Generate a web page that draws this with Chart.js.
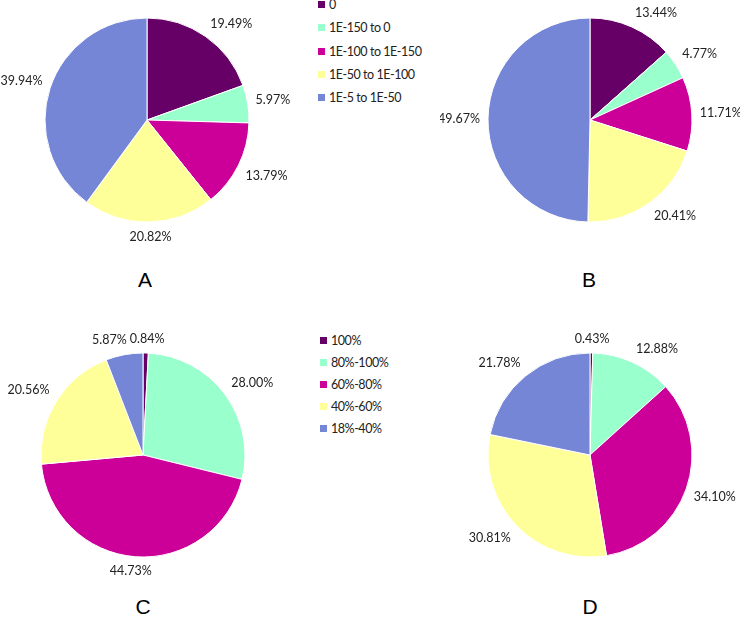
<!DOCTYPE html>
<html>
<head>
<meta charset="utf-8">
<script src="https://cdn.jsdelivr.net/npm/chart.js@4/dist/chart.umd.min.js"></script>
<style>
  body { margin: 0; background: #fff; width: 741px; height: 617px; overflow: hidden; position: relative; font-family: Lato, "Open Sans", sans-serif; }
  .box { position: absolute; }
  .letter { position: absolute; font-family: "Liberation Sans", Arial, sans-serif; font-size: 21px; color: #000; transform: translate(-50%, -50%); }
  .legend { position: absolute; font-size: 12.5px; letter-spacing: -0.45px; color: #222; }
  .legend div { position: absolute; white-space: nowrap; line-height: 14px; }
  .legend span { display: inline-block; width: 7px; height: 7px; margin-right: 4px; vertical-align: 1px; }
</style>
</head>
<body>

<div class="legend" id="legend1" style="left:318px; top:-2px;"></div>
<div class="legend" id="legend2" style="left:320px; top:334px;"></div>

<div class="letter" style="left:145px; top:280px;">A</div>
<div class="letter" style="left:589px; top:280px;">B</div>
<div class="letter" style="left:143px; top:607px;">C</div>
<div class="letter" style="left:590px; top:607px;">D</div>

<script>
// colours shared by all four pies
colors = ['#660066', '#99FFCC', '#CC0099', '#FFFF99', '#7586D6'];

// top row categories (E-value bins)
evalueLabels = ['0', '1E-150 to 0', '1E-100 to 1E-150', '1E-50 to 1E-100', '1E-5 to 1E-50'];
// bottom row categories (identity bins)
identityLabels = ['100%', '80%-100%', '60%-80%', '40%-60%', '18%-40%'];

valuesA = [19.49, 5.97, 13.79, 20.82, 39.94];
valuesB = [13.44, 4.77, 11.71, 20.41, 49.67];
valuesC = [0.84, 28.00, 44.73, 20.56, 5.87];
valuesD = [0.43, 12.88, 34.10, 30.81, 21.78];

function buildLegend(id, labels, step) {
    var el = document.getElementById(id);
    for (var i = 0; i < labels.length; i++) {
        var d = document.createElement('div');
        d.style.top = (i * step) + 'px';
        d.innerHTML = '<span style="background:' + colors[i] + '"></span>' + labels[i];
        el.appendChild(d);
    }
}
buildLegend('legend1', evalueLabels, 23.3);
buildLegend('legend2', identityLabels, 22);

function clamp(v) { return Math.max(-1, Math.min(1, v)); }

// draws the percentage labels outside each slice (box corner sits just off the rim)
outsideLabels = {
    id: 'outsideLabels',
    afterDatasetsDraw(chart) {
        var ctx = chart.ctx;
        var meta = chart.getDatasetMeta(0);
        var data = chart.data.datasets[0].data;
        ctx.save();
        ctx.font = '12.5px Lato, "Open Sans", sans-serif';
        ctx.fillStyle = '#222';
        ctx.textAlign = 'center';
        ctx.textBaseline = 'middle';
        var placed = [];
        meta.data.forEach(function (arc, i) {
            var p = arc.getProps(['x', 'y', 'startAngle', 'endAngle', 'outerRadius'], true);
            var mid = (p.startAngle + p.endAngle) / 2;
            var txt = data[i].toFixed(2) + '%';
            var w = ctx.measureText(txt).width;
            var h = 13;
            var r = p.outerRadius + 8;
            var cx = Math.cos(mid), cy = Math.sin(mid);
            var x = p.x + cx * r + clamp(cx * 2.5) * w / 2;
            var y = p.y + cy * r + clamp(cy * 2.5) * h / 2;
            // nudge sideways if it runs into a label already drawn
            placed.forEach(function (b) {
                if (Math.abs(b.y - y) < h && Math.abs(b.x - x) < (b.w + w) / 2 + 3) {
                    var need = (b.w + w) / 2 + 3 - Math.abs(b.x - x);
                    x += (x < b.x ? -need : need);
                }
            });
            placed.push({ x: x, y: y, w: w });
            ctx.fillText(txt, x, y);
        });
        ctx.restore();
    }
};

function makePie(values, labels, cx, cy) {
    var W = 300, H = 250, R = 102.5;
    var box = document.createElement('div');
    box.className = 'box';
    box.style.left = (cx - W / 2) + 'px';
    box.style.top = (cy - H / 2) + 'px';
    var c = document.createElement('canvas');
    c.width = W; c.height = H;
    box.appendChild(c);
    document.body.appendChild(box);
    var padX = W / 2 - R, padY = H / 2 - R;
    new Chart(c.getContext('2d'), {
        type: 'pie',
        data: {
            labels: labels,
            datasets: [{
                data: values,
                backgroundColor: colors,
                borderColor: '#ffffff',
                borderWidth: 1
            }]
        },
        options: {
            responsive: false,
            animation: false,
            layout: { padding: { left: padX, right: padX, top: padY, bottom: padY } },
            plugins: {
                legend: { display: false },
                tooltip: { enabled: false }
            }
        },
        plugins: [outsideLabels]
    });
}

makePie(valuesA, evalueLabels, 146.5, 119.5);
makePie(valuesB, evalueLabels, 589.5, 119.5);
makePie(valuesC, identityLabels, 142.5, 454.5);
makePie(valuesD, identityLabels, 589.5, 454.5);
</script>
</body>
</html>
